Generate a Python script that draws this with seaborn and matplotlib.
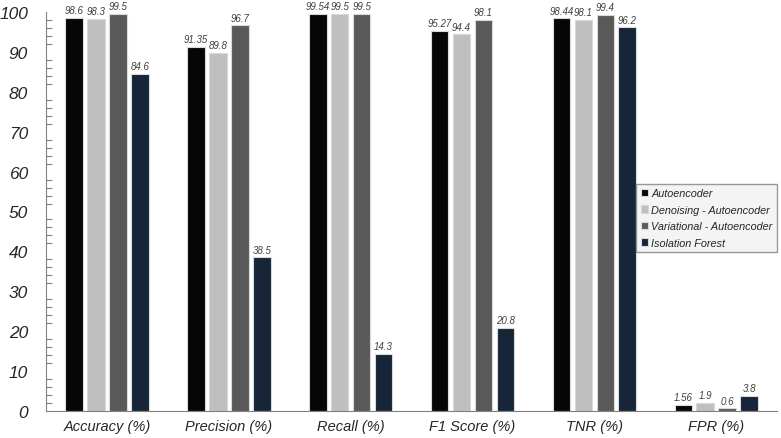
import pandas as pd
import seaborn as sns
import matplotlib.pyplot as plt
from matplotlib.ticker import MultipleLocator

# values
metrics = ["Accuracy (%)", "Precision (%)", "Recall (%)", "F1 Score (%)", "TNR (%)", "FPR (%)"]
models = ["Autoencoder", "Denoising - Autoencoder", "Variational - Autoencoder", "Isolation Forest"]
autoencoder = [98.6, 91.35, 99.54, 95.27, 98.44, 1.56]
denoising = [98.3, 89.8, 99.5, 94.4, 98.1, 1.9]
variational = [99.5, 96.7, 99.5, 98.1, 99.4, 0.6]
iso_forest = [84.6, 38.5, 14.3, 20.8, 96.2, 3.8]
colors = ["#060606", "#bfbfbf", "#595959", "#10263e"]

rows = []
for name, vals in zip(models, [autoencoder, denoising, variational, iso_forest]):
    for m, v in zip(metrics, vals):
        rows.append({"metric": m, "model": name, "value": v})
df = pd.DataFrame(rows)

sns.set_style("white")
plt.rcParams['font.family'] = ['Liberation Sans', 'DejaVu Sans']

fig = plt.figure(figsize=(7.81, 4.39), dpi=100)
ax = fig.add_axes([0.059, 0.062, 0.936, 0.908])

sb = sns.barplot(data=df, x="metric", y="value", hue="model", order=metrics,
                 hue_order=models, palette=colors, width=0.72, gap=0.2,
                 edgecolor="#d9d9d9", linewidth=0.8, ax=ax, legend=True)

# value labels above every bar
for cont in ax.containers:
    ax.bar_label(cont, fmt="%g", padding=2, fontsize=7, style="italic",
                 color="#404040", clip_on=False)

ax.set_ylim(0, 100)
ax.yaxis.set_major_locator(MultipleLocator(10))
ax.yaxis.set_minor_locator(MultipleLocator(2))
ax.tick_params(axis="y", which="major", direction="inout", length=8, width=0.8,
               color="#808080", labelsize=12.5, pad=9)
ax.tick_params(axis="y", which="minor", direction="in", length=4, width=0.8,
               color="#808080", left=True)
ax.tick_params(axis="x", length=0, labelsize=10.5, pad=6)
for lbl in ax.get_xticklabels() + ax.get_yticklabels():
    lbl.set_fontstyle("italic")

sns.despine(ax=ax, top=True, right=True)
ax.spines["left"].set_color("#808080")
ax.spines["bottom"].set_color("#808080")
ax.set_xlabel("")
ax.set_ylabel("")

ax.legend(loc="upper right", bbox_to_anchor=(777 / 781, 1 - 185 / 439),
          bbox_transform=fig.transFigure, frameon=True, fancybox=False,
          facecolor="#f2f2f2", edgecolor="#808080", prop={"size": 7.8, "style": "italic"},
          handlelength=0.7, handleheight=0.7, handletextpad=0.3,
          labelspacing=0.6, borderpad=0.4, borderaxespad=0)

plt.savefig("out.png", dpi=100)
plt.close()
